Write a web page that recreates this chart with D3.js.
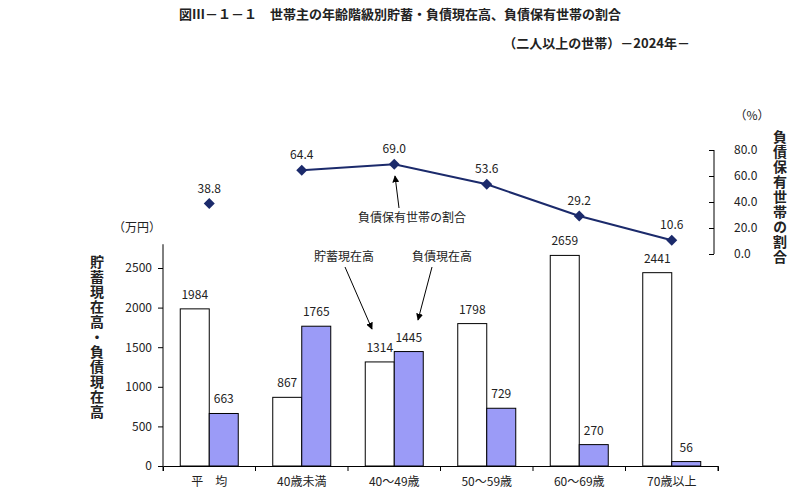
<!DOCTYPE html>
<html><head><meta charset="utf-8">
<script src="https://cdn.jsdelivr.net/npm/d3@7"></script>
<style>
body{margin:0;background:#fff;font-family:"Noto Sans CJK JP","Noto Sans",sans-serif;}
text{fill:#222;}
</style></head><body>
<svg id="c" width="800" height="493"></svg>
<script>
// データ
const categories = ['平　均', '40歳未満', '40～49歳', '50～59歳', '60～69歳', '70歳以上'];
const savings = [1984, 867, 1314, 1798, 2659, 2441];
const debts = [663, 1765, 1445, 729, 270, 56];
const debtRatio = [38.8, 64.4, 69.0, 53.6, 29.2, 10.6];
const leftTicks = [0, 500, 1000, 1500, 2000, 2500];
const rightTicks = [0, 20, 40, 60, 80];

const svg = d3.select('#c');
const FONT = '"Noto Sans CJK JP",sans-serif';

// スケール
const x = d3.scaleBand().domain(categories).range([163, 718]).padding(0);
const y = d3.scaleLinear().domain([0, 2500]).range([466, 268]);
const yr = d3.scaleLinear().domain([0, 80]).range([254, 150]);

// タイトル
svg.append('text').attr('x', 400).attr('y', 19).attr('text-anchor', 'middle')
  .style('font-size', '13px').style('font-weight', 'bold')
  .text('図Ⅲ－１－１　世帯主の年齢階級別貯蓄・負債現在高、負債保有世帯の割合');
svg.append('text').attr('x', 690).attr('y', 48).attr('text-anchor', 'end')
  .style('font-size', '13px').style('font-weight', 'bold')
  .text('（二人以上の世帯）－2024年－');

// 左軸
const gl = svg.append('g').attr('transform', 'translate(163,0)')
  .call(d3.axisLeft(y).tickValues(leftTicks).tickFormat(d3.format('d')).tickSize(5).tickPadding(6));
gl.select('.domain').attr('d', `M0,${y(0)}V${y(2800)}`);
gl.selectAll('text').style('font-size', '12px').style('font-family', FONT);
svg.append('text').attr('x', 137).attr('y', 232).attr('text-anchor', 'middle')
  .style('font-size', '12px').text('（万円）');
svg.append('text').attr('transform', 'translate(97,255)').attr('writing-mode', 'tb')
  .style('font-size', '14px').style('font-weight', 'bold').style('letter-spacing', '1px')
  .text('貯蓄現在高・負債現在高');

// X軸
const gx = svg.append('g').attr('transform', `translate(0,${y(0)})`)
  .call(d3.axisBottom(x).tickSize(5).tickPadding(6));
gx.selectAll('.tick line').attr('transform', `translate(${-x.bandwidth() / 2},0)`);
gx.append('line').attr('x1', x.range()[1]).attr('x2', x.range()[1]).attr('y2', 5).attr('stroke', '#000');
gx.selectAll('text').style('font-size', '12px').style('font-family', FONT);

// 棒
const bw = 29;
const bars = svg.append('g');
categories.forEach((c, i) => {
  const cx = x(c) + x.bandwidth() / 2;
  bars.append('rect').attr('x', cx - bw).attr('y', y(savings[i])).attr('width', bw)
    .attr('height', y(0) - y(savings[i])).attr('fill', '#fff').attr('stroke', '#000');
  bars.append('rect').attr('x', cx).attr('y', y(debts[i])).attr('width', bw)
    .attr('height', y(0) - y(debts[i])).attr('fill', '#9b9bf7').attr('stroke', '#000');
  bars.append('text').attr('x', cx - bw / 2).attr('y', y(savings[i]) - 10).attr('text-anchor', 'middle')
    .style('font-size', '12px').text(savings[i]);
  bars.append('text').attr('x', cx + bw / 2).attr('y', y(debts[i]) - 10).attr('text-anchor', 'middle')
    .style('font-size', '12px').text(debts[i]);
});

// 右軸
const gr = svg.append('g').attr('transform', 'translate(714,0)')
  .call(d3.axisRight(yr).tickValues(rightTicks).tickSize(5).tickPadding(6).tickFormat(d3.format('.1f')));
gr.select('.domain').attr('d', `M0,${yr(0)}V${yr(80)}`);
gr.selectAll('.tick line').attr('x1', -5).attr('x2', 0);
gr.selectAll('text').style('font-size', '12px').style('font-family', FONT).attr('x', 20);
svg.append('text').attr('x', 752).attr('y', 120).attr('text-anchor', 'middle')
  .style('font-size', '12px').text('（%）');
svg.append('text').attr('transform', 'translate(780,130)').attr('writing-mode', 'tb')
  .style('font-size', '14px').style('font-weight', 'bold').style('letter-spacing', '1px')
  .text('負債保有世帯の割合');

// 折れ線（平均は独立）
const cxOf = i => x(categories[i]) + x.bandwidth() / 2;
const navy = '#1b2a6b';
const idx = d3.range(1, categories.length);
svg.append('path').datum(idx)
  .attr('d', d3.line().x(i => cxOf(i)).y(i => yr(debtRatio[i])))
  .attr('fill', 'none').attr('stroke', navy).attr('stroke-width', 2);
svg.selectAll('.dm').data(debtRatio).enter().append('path')
  .attr('d', 'M0,-5.5L5.5,0L0,5.5L-5.5,0Z')
  .attr('transform', (d, i) => `translate(${cxOf(i)},${yr(d)})`).attr('fill', navy);
svg.selectAll('.dl').data(debtRatio).enter().append('text')
  .attr('x', (d, i) => cxOf(i)).attr('y', d => yr(d) - 11).attr('text-anchor', 'middle')
  .style('font-size', '12px').text(d => d.toFixed(1));

// 注記
svg.append('defs').append('marker').attr('id', 'ar').attr('viewBox', '0 0 10 10')
  .attr('refX', 9).attr('refY', 5).attr('markerWidth', 7).attr('markerHeight', 7).attr('orient', 'auto')
  .append('path').attr('d', 'M0,0L10,5L0,10z').attr('fill', '#000');
const note = (t, tx, ty, x1, y1, x2, y2) => {
  svg.append('text').attr('x', tx).attr('y', ty).attr('text-anchor', 'middle').style('font-size', '12px').text(t);
  svg.append('line').attr('x1', x1).attr('y1', y1).attr('x2', x2).attr('y2', y2)
    .attr('stroke', '#000').attr('marker-end', 'url(#ar)');
};
note('貯蓄現在高', 344, 261, 345, 267, 372, 329);
note('負債現在高', 442, 261, 432, 267, 418, 320);
note('負債保有世帯の割合', 412, 222, 399, 208, 395, 176);
</script>
</body></html>
